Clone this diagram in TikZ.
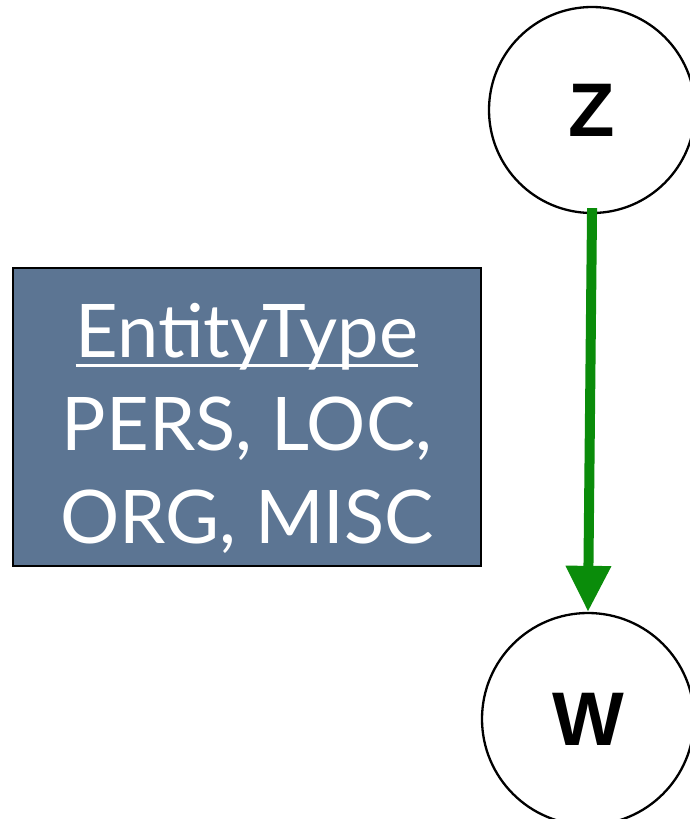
\documentclass[tikz,border=0pt]{standalone}
\usepackage{fontspec}
\setmainfont{Lato}
\newfontfamily\nodefont{Liberation Sans}
\usetikzlibrary{arrows.meta}
\definecolor{boxblue}{RGB}{92,117,147}
\definecolor{arrowgreen}{RGB}{10,140,10}
\newcommand\myul[1]{\setbox0\hbox{#1}\rlap{\rule[-9pt]{\wd0}{3pt}}\box0}
\tikzset{
  varnode/.style={circle, draw=black, line width=2.3pt, fill=white, inner sep=0pt,
    font=\nodefont\bfseries\fontsize{76}{76}\selectfont},
  typebox/.style={rectangle, draw=black, line width=2pt, fill=boxblue, text=white,
    minimum width=468pt, minimum height=298pt, align=center,
    font=\fontsize{74}{93}\selectfont},
  edgearrow/.style={draw=arrowgreen, line width=10pt,
    -{Triangle[width=43pt,length=46pt]}, shorten <=-6pt}
}
\begin{document}
\begin{tikzpicture}[x=1pt,y=-1pt]
\useasboundingbox (0,0) rectangle (690,819);
\node[varnode, minimum size=206pt] (z) at (592,110) {Z};
\node[varnode, minimum size=212pt] (w) at (588,719) {W};
\draw[edgearrow] (z.south) -- (w.north);
\node[typebox] (box) at (247,417) {\raisebox{-15pt}[\height][\depth]{\begin{tabular}{@{}c@{}}\myul{EntityType}\\PERS, LOC,\\ORG, MISC\end{tabular}}};
\end{tikzpicture}
\end{document}
